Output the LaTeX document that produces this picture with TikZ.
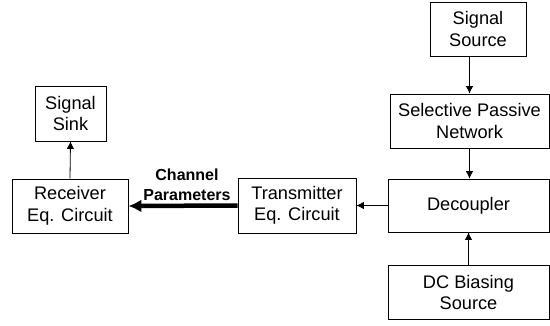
\documentclass[tikz,border=0pt]{standalone}
\usepackage{fontspec}
\setmainfont{Liberation Sans}
\usetikzlibrary{arrows.meta}

\begin{document}
\begin{tikzpicture}
[x=1pt, y=-1pt,
box/.style={rectangle,draw,line width=0.8pt,align=center,minimum height=54pt,inner sep=0pt,font=\fontsize{18.2}{21.5}\selectfont},
link/.style={line width=0.8pt,-{Latex[length=7.5pt,width=7.5pt]}},
thick link/.style={line width=4.5pt,-{Latex[length=13pt,width=13pt]}}]
\useasboundingbox (0,0) rectangle (550,325);
\node[box, minimum width=96pt] (src) at (478,29) {Signal\\Source};
\node[box, minimum width=159pt] (spn) at (469.5,121) {Selective Passive\\Network};
\node[box, minimum width=161pt, minimum height=53pt] (dec) at (468.5,205.5) {Decoupler};
\node[box, minimum width=161pt] (dcb) at (468.5,292.5) {DC Biasing\\Source};
\node[box, minimum width=118pt, minimum height=55pt] (tx) at (297,205.5) {Transmitter\\Eq. Circuit};
\node[box, minimum width=116pt] (rx) at (70,206) {Receiver\\Eq. Circuit};
\node[box, minimum width=71pt, minimum height=55pt] (sink) at (70.5,113.5) {Signal\\Sink};

\draw[link] (spn.north |- src.south) -- (spn.north);
\draw[link] (spn.south) -- (spn.south |- dec.north);
\draw[link] (dcb.north) -- (dec.south);
\draw[link] (dec.west) -- (tx.east);
\draw[thick link] (tx.west) -- node[above, xshift=4pt, align=center, font=\fontsize{16}{19.5}\selectfont\bfseries] (chan) {Channel\\Parameters} (rx.east);
\draw[link] (rx.north) -- (sink.south);
\end{tikzpicture}
\end{document}
